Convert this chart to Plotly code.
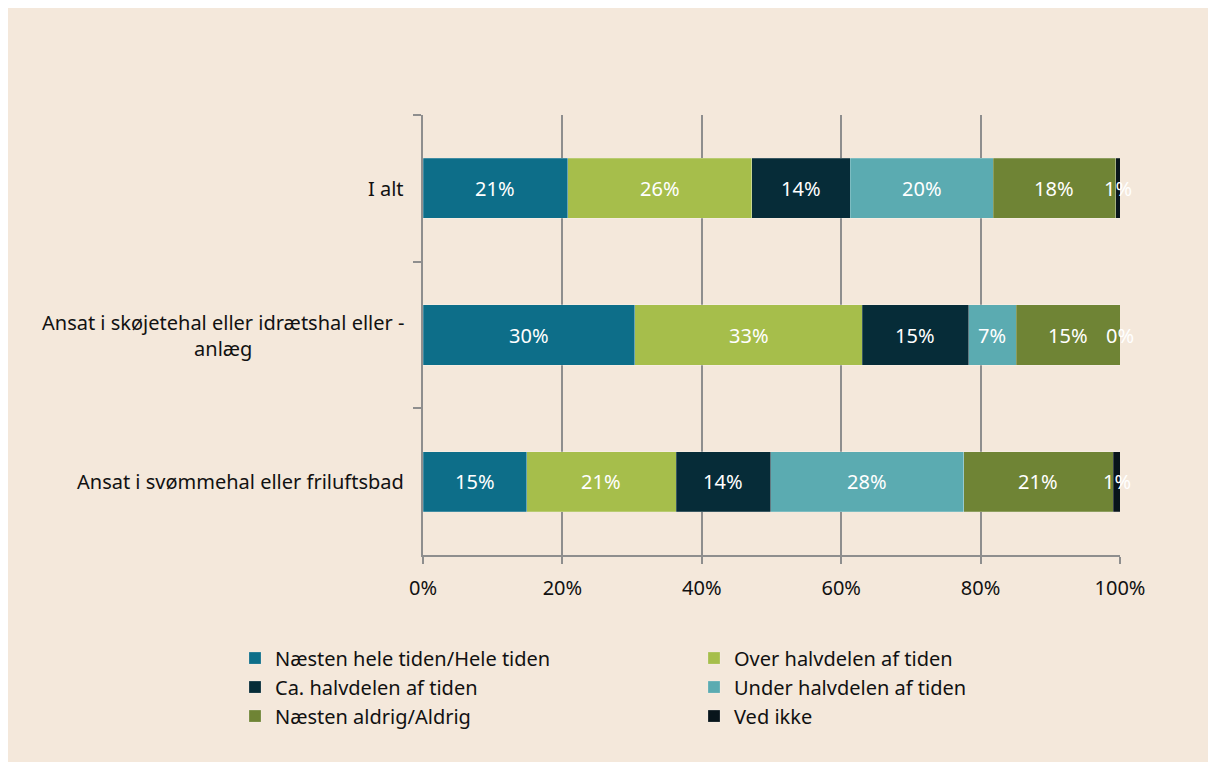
import plotly.graph_objects as go

categories = ["I alt", "Ansat i skøjetehal eller idrætshal eller -<br>anlæg", "Ansat i svømmehal eller friluftsbad"]
series_names = ["Næsten hele tiden/Hele tiden", "Over halvdelen af tiden", "Ca. halvdelen af tiden",
                "Under halvdelen af tiden", "Næsten aldrig/Aldrig", "Ved ikke"]
values = {
    "Næsten hele tiden/Hele tiden": [20.8, 30.4, 14.9],
    "Over halvdelen af tiden": [26.4, 32.6, 21.4],
    "Ca. halvdelen af tiden": [14.1, 15.3, 13.6],
    "Under halvdelen af tiden": [20.5, 6.8, 27.7],
    "Næsten aldrig/Aldrig": [17.6, 14.9, 21.4],
    "Ved ikke": [0.6, 0.0, 1.0],
}
colors = ["#0D6E89", "#A6BE4B", "#062C38", "#5BABB1", "#6F8435", "#08151B"]
x_ticks = [0, 20, 40, 60, 80, 100]

FONT = "Noto Sans"
fig = go.Figure()
for name, col in zip(series_names, colors):
    fig.add_trace(go.Bar(
        y=categories, x=values[name], name=name, orientation="h",
        marker=dict(color=col, line=dict(width=0.6, color="rgba(255,255,255,0.35)")),
        width=0.41, hoverinfo="skip",
    ))

# value labels
for i, cat in enumerate(categories):
    cum = 0
    for name in series_names:
        v = values[name][i]
        fig.add_annotation(x=cum + v / 2, y=cat, xref="x", yref="y", text=f"{round(v):.0f}%",
                           showarrow=False, font=dict(family=FONT, size=20, color="white"))
        cum += v

# category labels
for cat in categories:
    fig.add_annotation(x=0, y=cat, xref="paper", yref="y", text=cat, showarrow=False,
                       xanchor="right", align="center", xshift=-17,
                       font=dict(family=FONT, size=20, color="#111111"))

fig.update_layout(
    width=1216, height=762,
    barmode="stack",
    paper_bgcolor="#F4E8DB", plot_bgcolor="rgba(0,0,0,0)",
    margin=dict(l=415, r=104, t=107, b=215),
    font=dict(family=FONT, size=20, color="#111111"),
    xaxis=dict(range=[0, 100], tickvals=x_ticks, ticktext=[f"{t}%" for t in x_ticks],
               showgrid=True, gridcolor="#8E8E8E", gridwidth=2,
               showline=True, linecolor="#8E8E8E", linewidth=2,
               ticks="outside", ticklen=7, tickcolor="#8E8E8E", tickwidth=2, ticklabelstandoff=7,
               zeroline=False, tickfont=dict(family=FONT, size=20, color="#111111"), fixedrange=True),
    yaxis=dict(categoryorder="array", categoryarray=categories, autorange="reversed",
               showticklabels=False, showline=True, linecolor="#8E8E8E", linewidth=2,
               ticks="outside", ticklen=8, tickcolor="#8E8E8E", tickwidth=2, tickson="boundaries",
               showgrid=False, zeroline=False),
    showlegend=True,
    legend=dict(orientation="h", x=(235 - 423) / 697, xanchor="left", y=-0.19, yanchor="top",
                entrywidth=414, entrywidthmode="pixels", traceorder="normal",
                font=dict(family=FONT, size=20, color="#111111"), bgcolor="rgba(0,0,0,0)",
                itemclick=False, itemdoubleclick=False),
)

fig.write_html("out.html")
